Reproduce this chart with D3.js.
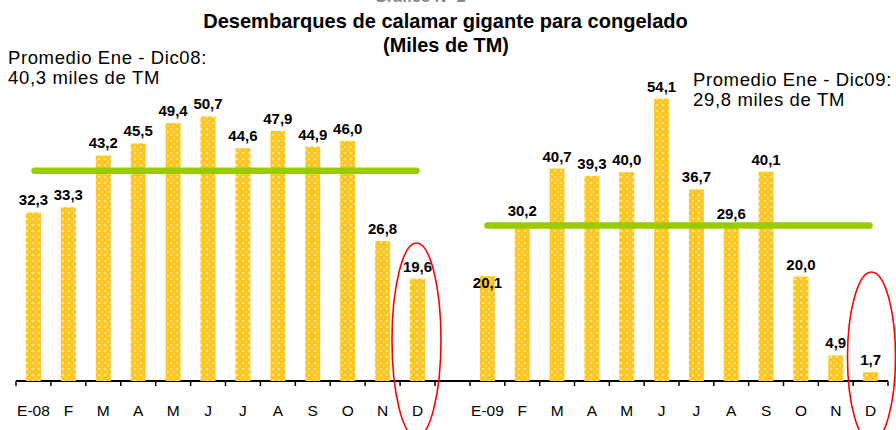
<!DOCTYPE html>
<html><head><meta charset="utf-8">
<script src="https://cdn.jsdelivr.net/npm/d3@7"></script>
<style>body{margin:0;background:#fff}svg{display:block}text{font-family:"Liberation Sans",Arial,sans-serif}</style>
</head><body><svg id="c" width="896" height="430"></svg>
<script>
const months2008 = ["E-08","F","M","A","M","J","J","A","S","O","N","D"];
const months2009 = ["E-09","F","M","A","M","J","J","A","S","O","N","D"];
const values2008 = [32.3,33.3,43.2,45.5,49.4,50.7,44.6,47.9,44.9,46.0,26.8,19.6];
const values2009 = [20.1,30.2,40.7,39.3,40.0,54.1,36.7,29.6,40.1,20.0,4.9,1.7];
const averages = [40.3, 29.8];
const titleLines = ["Desembarques de calamar  gigante para congelado","(Miles de TM)"];
const noteLines2008 = ["Promedio Ene - Dic08:","40,3 miles de TM"];
const noteLines2009 = ["Promedio Ene - Dic09:","29,8 miles de TM"];
const fmt = v => v.toFixed(1).replace(".", ",");

const svg = d3.select("#c");
const defs = svg.append("defs");
const pat = defs.append("pattern").attr("id","hatch").attr("patternUnits","userSpaceOnUse")
  .attr("width",6).attr("height",6);
pat.append("rect").attr("width",6).attr("height",6).attr("fill","#ffc21a");
pat.append("path").attr("d","M3,1.2L4.8,3L3,4.8L1.2,3Z").attr("fill","#ffe680");
pat.append("path").attr("d","M0,0h0.9v0.9h-0.9Z M5.1,0h0.9v0.9h-0.9Z M0,5.1h0.9v0.9h-0.9Z M5.1,5.1h0.9v0.9h-0.9Z").attr("fill","#ffdd66");

const y = d3.scaleLinear().domain([0,60]).range([381, 381-313.2]);

const panels = [
  {months: months2008, values: values2008, avg: averages[0], range:[16,435], line:[34.5,416.5]},
  {months: months2009, values: values2009, avg: averages[1], range:[470,888], line:[487.5,869.5]}
];

svg.append("line").attr("x1",16).attr("x2",888).attr("y1",y(0)).attr("y2",y(0))
  .attr("stroke","#000").attr("stroke-width",2);

panels.forEach((p,pi) => {
  const x = d3.scaleBand().domain(d3.range(12)).range(p.range).paddingInner(0.57).paddingOuter(0.285);
  const step = x.step();
  svg.append("g").selectAll("rect").data(p.values).join("rect")
    .attr("x",(d,i)=>x(i)).attr("width",x.bandwidth())
    .attr("y",d=>y(d)).attr("height",d=>y(0)-y(d))
    .attr("fill","url(#hatch)");
  const bounds = d3.range(13).map(i => p.range[0] + i*step);
  svg.append("g").selectAll("line").data(bounds).join("line")
    .attr("x1",d=>d).attr("x2",d=>d).attr("y1",y(0)).attr("y2",y(0)+5)
    .attr("stroke","#000").attr("stroke-width",1.5);
  const ax = d3.axisBottom(x).tickSize(0).tickFormat(i=>p.months[i]);
  const g = svg.append("g").attr("transform",`translate(0,${y(0)})`).call(ax);
  g.select(".domain").remove();
  g.selectAll("text").attr("dy",0).attr("y",35).attr("font-size","15.5px").attr("fill","#000")
    .style("font-family",'"Liberation Sans",Arial,sans-serif');
  svg.append("line").attr("x1",p.line[0]).attr("x2",p.line[1]).attr("y1",y(p.avg)).attr("y2",y(p.avg))
    .attr("stroke","#99cc00").attr("stroke-width",6.5).attr("stroke-linecap","round");
  svg.append("g").selectAll("text").data(p.values).join("text")
    .attr("x",(d,i)=>x(i)+x.bandwidth()/2)
    .attr("y",(d,i)=> (pi===1 && i===0) ? y(d)+12 : y(d)-7)
    .attr("text-anchor","middle").attr("font-size","15px").attr("font-weight","bold")
    .text(d=>fmt(d));
});

svg.append("ellipse").attr("cx",416.5).attr("cy",340).attr("rx",24.5).attr("ry",97)
  .attr("fill","none").attr("stroke","#ff0000").attr("stroke-width",1.6);
svg.append("ellipse").attr("cx",871.5).attr("cy",357).attr("rx",24).attr("ry",85)
  .attr("fill","none").attr("stroke","#ff0000").attr("stroke-width",1.6);

svg.append("text").attr("x",420).attr("y",1.5).attr("text-anchor","middle")
  .attr("font-size","16px").attr("font-weight","bold").attr("fill","#888").text("Gráfico Nº 2");
function fitText(sel, width){
  const w = sel.node().getComputedTextLength();
  const fs = parseFloat(sel.attr("font-size"));
  sel.attr("font-size", (fs*width/w).toFixed(2)+"px");
}
function fitSpacing(sel, width){
  const txt = sel.text();
  const w = sel.node().getComputedTextLength();
  sel.attr("letter-spacing", ((width - w)/txt.length).toFixed(2)+"px");
}
const t1 = svg.append("text").attr("x",445.5).attr("y",28).attr("text-anchor","middle")
  .attr("font-size","16px").attr("font-weight","bold").text(titleLines[0]);
fitText(t1,485);
const t2 = svg.append("text").attr("x",446).attr("y",52).attr("text-anchor","middle")
  .attr("font-size","16px").attr("font-weight","bold").text(titleLines[1]);
fitText(t2,126);

const notes = [
  {lines: noteLines2008, x: 8, y: 64},
  {lines: noteLines2009, x: 693, y: 86}
];
notes.forEach(n => {
  n.lines.forEach((l,i) => {
    const t = svg.append("text").attr("x",n.x).attr("y",n.y + i*20).attr("font-size","18.5px").text(l);
    fitSpacing(t, i===0 ? 199 : 152);
  });
});
</script></body></html>
